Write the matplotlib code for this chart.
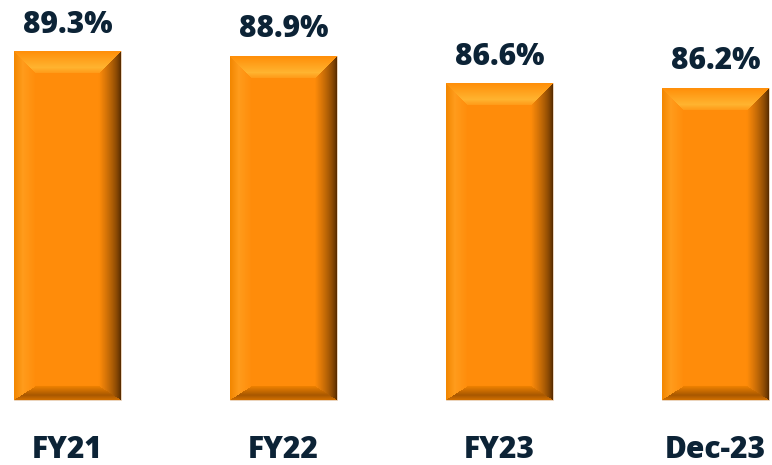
import numpy as np
import matplotlib
matplotlib.use("Agg")
import matplotlib.pyplot as plt

categories = ["FY21", "FY22", "FY23", "Dec-23"]
values = [89.3, 88.9, 86.6, 86.2]
labels = ["89.3%", "88.9%", "86.6%", "86.2%"]
base = 60.0

text_color = "#0c2336"
face = np.array([255, 140, 10]) / 255.0


def mix(c1, c2, t):
    t = np.clip(t, 0, 1)[..., None]
    return np.array(c1) * (1 - t) + np.array(c2) * t


def bevel_image(w, h, top=22, side=22, bottom=14):
    # per-pixel colours of a bevelled bar
    u, v = np.meshgrid(np.arange(w) + 0.5, np.arange(h) + 0.5)
    nt = v / top
    nl = u / side
    nr = (w - u) / side
    nb = (h - v) / bottom
    stack = np.stack([nt, nl, nr, nb])
    region = np.argmin(stack, axis=0)
    nmin = np.min(stack, axis=0)
    img = np.tile(face, (h, w, 1)).astype(float)

    hex2 = lambda s: np.array([int(s[i:i + 2], 16) for i in (1, 3, 5)]) / 255.0
    # top bevel: orange at edge, highlight near inner edge
    m = (region == 0) & (nmin < 1)
    t = nt[m]
    img[m] = np.where((t < 0.75)[:, None],
                      mix(hex2("#ff8e08"), hex2("#ffb430"), t / 0.75),
                      mix(hex2("#ffb430"), hex2("#ff9a18"), (t - 0.75) / 0.25))
    # left bevel
    m = (region == 1) & (nmin < 1)
    t = nl[m]
    img[m] = np.where((t < 0.4)[:, None],
                      mix(hex2("#f28600"), hex2("#ff9c1c"), t / 0.4),
                      mix(hex2("#ff9c1c"), face, (t - 0.4) / 0.6))
    # right bevel: dark toward the edge
    m = (region == 2) & (nmin < 1)
    t = nr[m]
    img[m] = mix(hex2("#4a2400"), face, t ** 0.65)
    # bottom bevel
    m = (region == 3) & (nmin < 1)
    t = nb[m]
    img[m] = np.where((t < 0.35)[:, None],
                      mix(hex2("#d27000"), hex2("#a85800"), t / 0.35),
                      mix(hex2("#a85800"), hex2("#f08200"), (t - 0.35) / 0.65))
    return img


fig = plt.figure(figsize=(7.72, 4.65), dpi=100)
ax = fig.add_axes([0, 0, 1, 1])
x = np.arange(len(categories))
bars = ax.bar(x, np.array(values) - base, bottom=base, width=0.495,
              color="#ff8c0a", edgecolor="#e8d8c8", linewidth=0.6)

ax.set_xlim(-0.3125, 3.2616)
ax.set_ylim(54.54, 93.61)
ax.axis("off")

fig.canvas.draw()
for b in bars:
    x0, y0, w, h = b.get_x(), b.get_y(), b.get_width(), b.get_height()
    (px0, py0), (px1, py1) = ax.transData.transform([(x0, y0), (x0 + w, y0 + h)])
    img = bevel_image(int(round(px1 - px0)), int(round(py1 - py0)))
    im = ax.imshow(img, extent=(x0, x0 + w, y0, y0 + h), aspect="auto",
                   interpolation="bilinear", zorder=3)
    im.set_clip_path(b)

for i, b in enumerate(bars):
    ax.annotate(labels[i], (b.get_x() + b.get_width() / 2, b.get_y() + b.get_height()),
                xytext=(0, 13.5), textcoords="offset points", ha="center", va="baseline",
                fontsize=21.5, fontweight=800, color=text_color, family="Open Sans")
    ax.text(x[i], 0.015, categories[i], transform=ax.get_xaxis_transform(),
            ha="center", va="baseline", fontsize=21.5, fontweight=800,
            color=text_color, family="Open Sans")

plt.savefig("out.png", dpi=100)
